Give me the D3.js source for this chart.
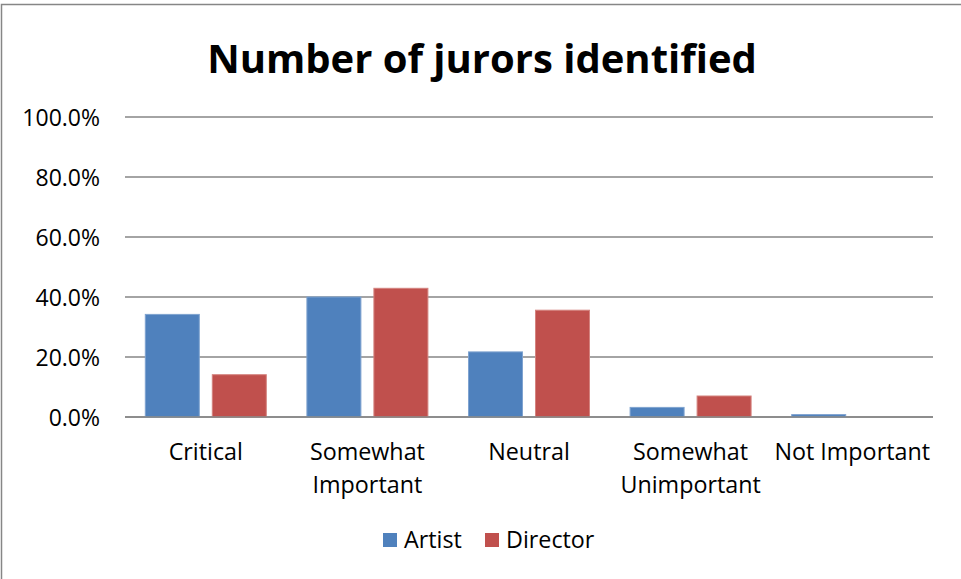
<!DOCTYPE html>
<html>
<head>
<meta charset="utf-8">
<script src="https://cdn.jsdelivr.net/npm/d3@7"></script>
<style>
  html, body { margin: 0; padding: 0; background: #fff; }
  svg { display: block; font-family: "Open Sans", sans-serif; }
</style>
</head>
<body>
<svg id="chart" width="961" height="579"></svg>
<script>
// Survey results: share of jurors per importance rating
const categories = [["Critical"], ["Somewhat", "Important"], ["Neutral"], ["Somewhat", "Unimportant"], ["Not Important"]];
const seriesNames = ["Artist", "Director"];
const artistValues = [34.2, 40.0, 21.7, 3.2, 0.8];
const directorValues = [14.1, 42.9, 35.6, 7.0, 0.0];
const yTicks = [0, 20, 40, 60, 80, 100];
const colors = ["#4F81BD", "#C0504D"];
const strokes = ["#7fa3d0", "#d4837f"];

const svg = d3.select("#chart");
const W = 961, H = 579;
const plot = { left: 125, right: 933, top: 117, bottom: 417 };

// Outer chart frame
svg.append("rect")
  .attr("x", 1.5).attr("y", 4.5)
  .attr("width", W + 10).attr("height", H + 10)
  .attr("fill", "#fff").attr("stroke", "#868686").attr("stroke-width", 1.5);

// Title
svg.append("text")
  .attr("x", 482).attr("y", 73)
  .attr("text-anchor", "middle")
  .attr("font-weight", "bold")
  .attr("font-size", 40)
  .attr("fill", "#000")
  .text("Number of jurors identified");

const x0 = d3.scaleBand()
  .domain(d3.range(categories.length))
  .range([plot.left, plot.right])
  .paddingInner(0).paddingOuter(0);

const y = d3.scaleLinear().domain([0, 100]).range([plot.bottom, plot.top]);

// Gridlines
const grid = svg.append("g");
yTicks.forEach(t => {
  grid.append("line")
    .attr("x1", plot.left).attr("x2", plot.right)
    .attr("y1", y(t)).attr("y2", y(t))
    .attr("stroke", "#868686").attr("stroke-width", 1.6);
});

// Y axis labels
const yAxis = d3.axisLeft(y).tickValues(yTicks)
  .tickFormat(d => d.toFixed(1) + "%")
  .tickSize(0).tickPadding(0);
const yG = svg.append("g").attr("transform", `translate(100,0)`).call(yAxis);
yG.select(".domain").remove();
yG.selectAll("text")
  .attr("font-size", 23)
  .attr("font-family", "Open Sans, sans-serif")
  .attr("fill", "#000")
  .attr("dy", "0.36em");

// Bars: group of two series centred in each category band
const barW = 54, gap = 13;
const x1 = d3.scaleOrdinal().domain([0, 1]).range([-(barW + gap / 2), gap / 2]);
const data = categories.map((c, i) => [artistValues[i], directorValues[i]]);

const groups = svg.append("g").selectAll("g")
  .data(data).join("g")
  .attr("transform", (d, i) => `translate(${x0(i) + x0.bandwidth() / 2},0)`);

groups.selectAll("rect")
  .data(d => d.map((v, s) => ({ v, s })))
  .join("rect")
  .filter(d => d.v > 0)
  .attr("x", d => x1(d.s))
  .attr("width", barW)
  .attr("y", d => y(d.v))
  .attr("height", d => y(0) - y(d.v))
  .attr("fill", d => colors[d.s])
  .attr("stroke", d => strokes[d.s])
  .attr("stroke-width", 1);

// Baseline over the bars
svg.append("line")
  .attr("x1", plot.left).attr("x2", plot.right)
  .attr("y1", y(0)).attr("y2", y(0))
  .attr("stroke", "#868686").attr("stroke-width", 1.6);

// Category labels
const xLab = svg.append("g");
categories.forEach((lines, i) => {
  const cx = x0(i) + x0.bandwidth() / 2;
  const t = xLab.append("text")
    .attr("x", cx)
    .attr("y", 460)
    .attr("text-anchor", "middle")
    .attr("font-size", 23.3)
    .attr("fill", "#000");
  lines.forEach((ln, k) => {
    t.append("tspan")
      .attr("x", cx)
      .attr("y", 460 + k * 33)
      .text(ln);
  });
});

// Legend
const legend = svg.append("g");
const legendItems = [{ x: 383, tx: 404 }, { x: 485, tx: 506 }];
seriesNames.forEach((name, s) => {
  legend.append("rect")
    .attr("x", legendItems[s].x).attr("y", 533)
    .attr("width", 14).attr("height", 14)
    .attr("fill", colors[s]);
  legend.append("text")
    .attr("x", legendItems[s].tx).attr("y", 548)
    .attr("font-size", 23.3)
    .attr("fill", "#000")
    .text(name);
});
</script>
</body>
</html>
